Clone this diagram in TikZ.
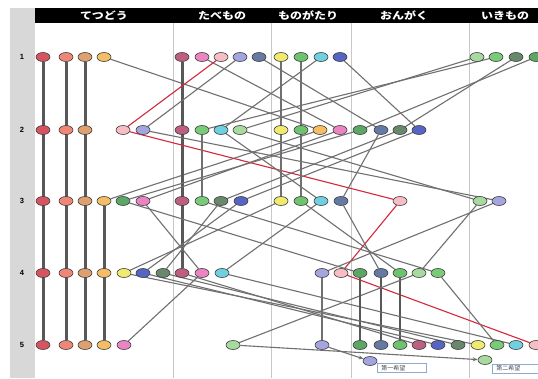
\documentclass[tikz,border=0pt]{standalone}
\usepackage{fontspec}
\setmainfont{Liberation Sans}
\newfontfamily\jp{Noto Sans CJK JP}
\usetikzlibrary{shapes.geometric,arrows.meta}
\pgfdeclarelayer{back}
\pgfdeclarelayer{bg}
\pgfsetlayers{back,bg,main}
\definecolor{cRed}{RGB}{214,84,96}
\definecolor{cSal}{RGB}{240,134,118}
\definecolor{cTan}{RGB}{222,160,110}
\definecolor{cOrg}{RGB}{246,190,100}
\definecolor{cMau}{RGB}{190,94,128}
\definecolor{cPnk}{RGB}{236,132,196}
\definecolor{cLpk}{RGB}{246,190,196}
\definecolor{cLav}{RGB}{164,164,222}
\definecolor{cSla}{RGB}{100,122,164}
\definecolor{cYel}{RGB}{240,234,110}
\definecolor{cGrA}{RGB}{110,196,110}
\definecolor{cGrB}{RGB}{120,204,120}
\definecolor{cGrC}{RGB}{90,168,100}
\definecolor{cCya}{RGB}{110,208,224}
\definecolor{cBlu}{RGB}{86,100,196}
\definecolor{cLgr}{RGB}{168,218,160}
\definecolor{cDgr}{RGB}{104,136,108}
\definecolor{lineG}{RGB}{112,112,112}
\definecolor{lineD}{RGB}{88,88,88}
\definecolor{lineR}{RGB}{212,40,60}
\definecolor{labelBg}{RGB}{216,216,216}
\definecolor{divG}{RGB}{200,200,200}
\definecolor{boxB}{RGB}{140,170,212}
\begin{document}
\begin{tikzpicture}[x=1pt,y=-1pt,
  dot/.style={ellipse, draw=black!75, line width=0.6pt, minimum width=14pt, minimum height=9pt, inner sep=0pt},
  link/.style={draw=lineG, line width=1.1pt},
  mlink/.style={draw=lineG, line width=1.8pt},
  tlink/.style={draw=lineD, line width=2.4pt},
  xlink/.style={draw=lineD, line width=3pt},
  rlink/.style={draw=lineR, line width=1.1pt},
  alink/.style={draw=lineG, line width=1.1pt, -{Stealth[length=5pt,width=4pt]}},
  hdr/.style={text=white, font=\jp\bfseries\fontsize{10}{11}\selectfont, inner sep=0pt, xscale=1.2},
  rowlab/.style={font=\bfseries\fontsize{7.5}{8}\selectfont, inner sep=0pt},
  choice/.style={draw=boxB, line width=0.7pt, fill=white, minimum height=9pt, inner ysep=0pt, inner xsep=4pt, align=left, font=\jp\fontsize{6}{6.5}\selectfont, text=black!70}]
\useasboundingbox (0,0) rectangle (538,378);
\clip (0,0) rectangle (538,378);
% frame
\begin{pgfonlayer}{back}
\fill[white] (0,0) rectangle (538,378);
\fill[labelBg] (10,8) rectangle (35,378);
\fill[black] (35,8) rectangle (538,23);
\foreach \dx in {173,271,351,469} \draw[divG, line width=0.8pt] (\dx,23) -- (\dx,378);
\end{pgfonlayer}
\node[hdr] (h1) at (104,15.5) {てつどう};
\node[hdr] (h2) at (222,15.5) {たべもの};
\node[hdr] (h3) at (308,15.5) {ものがたり};
\node[hdr] (h4) at (404,15.5) {おんがく};
\node[hdr] (h5) at (505,15.5) {いきもの};
\node[rowlab] (l1) at (22,57) {1};
\node[rowlab] (l2) at (22,130) {2};
\node[rowlab] (l3) at (22,201) {3};
\node[rowlab] (l4) at (22,273) {4};
\node[rowlab] (l5) at (22,345) {5};
% nodes
\foreach \n/\x in {Red/43,Sal/66,Tan/85,Org/104,Mau/182,Pnk/202,Lpk/221,Lav/240,Sla/259,Yel/281,GrA/301,Cya/321,Blu/340,Lgr/477,GrB/496,Dgr/516,GrC/536}
  \node[dot, fill=c\n] (r1\n) at (\x,57) {};
\foreach \n/\x in {Red/43,Sal/66,Tan/85,Lpk/123,Lav/143,Mau/182,GrB/202,Cya/221,Lgr/240,Yel/281,GrA/301,Org/320,Pnk/340,GrC/360,Sla/381,Dgr/400,Blu/419}
  \node[dot, fill=c\n] (r2\n) at (\x,130) {};
\foreach \n/\x in {Red/43,Sal/66,Tan/85,Org/104,GrC/123,Pnk/143,Mau/182,GrB/202,Dgr/221,Blu/241,Yel/281,GrA/301,Cya/321,Sla/341,Lpk/400,Lgr/480,Lav/499}
  \node[dot, fill=c\n] (r3\n) at (\x,201) {};
\foreach \n/\x in {Red/43,Sal/66,Tan/85,Org/104,Yel/124,Blu/143,Dgr/163,Mau/182,Pnk/202,Cya/222,Lav/322,Lpk/341,GrC/360,Sla/381,GrA/400,Lgr/419,GrB/438}
  \node[dot, fill=c\n] (r4\n) at (\x,273) {};
\foreach \n/\x in {Red/43,Sal/66,Tan/85,Org/104,Pnk/124,Lgr/233,Lav/322,GrC/360,Sla/381,GrA/400,Mau/419,Blu/438,Dgr/458,Yel/478,GrB/497,Cya/516,Lpk/536}
  \node[dot, fill=c\n] (r5\n) at (\x,345) {};
\node[dot, fill=cLav] (x1) at (370,361) {};
\node[dot, fill=cLgr] (x2) at (485,360) {};
\node[choice, text width=41pt, anchor=west] (b1) at (377,368) {第一希望};
\node[choice, text width=48pt, anchor=west] (b2) at (492,368.5) {第二希望};
% links
\begin{pgfonlayer}{bg}
\draw[xlink] (r1Red) -- (r5Red);
\draw[xlink] (r1Sal) -- (r5Sal);
\draw[xlink] (r1Tan) -- (r5Tan);
\draw[link] (r1Org) -- (r2Org) -- (r3Org);
\draw[xlink] (r3Org) -- (r5Org);
\draw[xlink] (r1Mau) -- (r4Mau);
\draw[link] (r4Mau) -- (r5Mau);
\draw[link] (r1Pnk) -- (r2Pnk) -- (r3Pnk) -- (r4Pnk) -- (r5Pnk);
\draw[rlink] (r1Lpk) -- (r2Lpk) -- (r3Lpk) -- (r4Lpk) -- (r5Lpk);
\draw[link] (r1Lav) -- (r2Lav) -- (r3Lav) -- (r4Lav);
\draw[mlink] (r4Lav) -- (r5Lav);
\draw[link] (r1Sla) -- (r2Sla) -- (r3Sla) -- (r4Sla);
\draw[tlink] (r4Sla) -- (r5Sla);
\draw[mlink] (r1Yel) -- (r3Yel);
\draw[link] (r3Yel) -- (r4Yel) -- (r5Yel);
\draw[mlink] (r1GrA) -- (r3GrA);
\draw[link] (r3GrA) -- (r4GrA);
\draw[tlink] (r4GrA) -- (r5GrA);
\draw[link] (r1Cya) -- (r2Cya) -- (r3Cya) -- (r4Cya) -- (r5Cya);
\draw[link] (r1Blu) -- (r2Blu) -- (r3Blu) -- (r4Blu) -- (r5Blu);
\draw[link] (r1Lgr) -- (r2Lgr) -- (r3Lgr) -- (r4Lgr) -- (r5Lgr);
\draw[link] (r1GrB) -- (r2GrB);
\draw[mlink] (r2GrB) -- (r3GrB);
\draw[link] (r3GrB) -- (r4GrB) -- (r5GrB);
\draw[link] (r1GrC) -- (r2GrC) -- (r3GrC) -- (r4GrC);
\draw[tlink] (r4GrC) -- (r5GrC);
\draw[link] (r1Dgr) -- (r2Dgr) -- (r3Dgr) -- (r4Dgr) -- (r5Dgr);
\end{pgfonlayer}
\draw[alink] (r5Lav) -- (x1);
\draw[alink] (r5Lgr) -- (x2);
\end{tikzpicture}
\end{document}
